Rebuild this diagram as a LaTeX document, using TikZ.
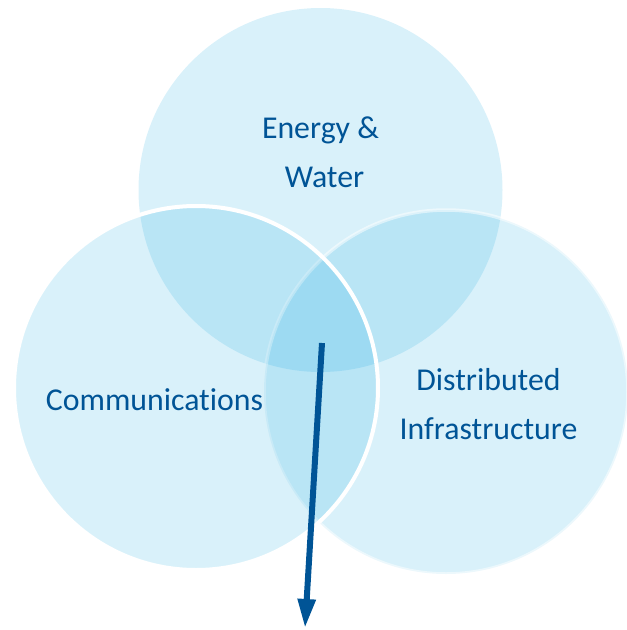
\documentclass[tikz,border=0pt]{standalone}
\usepackage{fontspec}
\setmainfont{Carlito}[Ligatures=NoCommon]
\usetikzlibrary{arrows.meta}
\definecolor{vennfill}{RGB}{0,160,220}
\definecolor{labelblue}{RGB}{0,84,150}
\tikzset{
  venn/.style={circle, minimum size=364pt, inner sep=0pt, outer sep=0pt, fill=vennfill, fill opacity=0.15},
  vennlabel/.style={text=labelblue, font=\fontsize{31.8}{49}\selectfont, inner sep=0pt, anchor=base},
  pointer/.style={draw=labelblue, line width=6pt, -{Triangle[length=29pt,width=17pt]}}
}

\begin{document}
\begin{tikzpicture}[x=1pt,y=1pt]
\useasboundingbox (0,0) rectangle (627,-630);
\node[venn] (energy) at (320.5,-190) {};
\node[venn, draw=white, draw opacity=0.5, line width=3.5pt] (infra) at (446,-392) {};
\node[venn, draw=white, line width=4pt] (comms) at (196,-388) {};

\node[vennlabel] (energytext) at (320.5,-138) {Energy \&};
\node[vennlabel] (watertext) at (324.5,-187) {Water};
\node[vennlabel] (commstext) at (154.5,-410) {Communications};
\node[vennlabel] (distrtext) at (488.5,-390) {Distributed};
\node[vennlabel] (infratext) at (488.5,-439) {Infrastructure};

\coordinate (core) at (322,-343);
\coordinate (down) at (305,-628);
\draw[pointer] (core) -- (down);
\end{tikzpicture}
\end{document}
